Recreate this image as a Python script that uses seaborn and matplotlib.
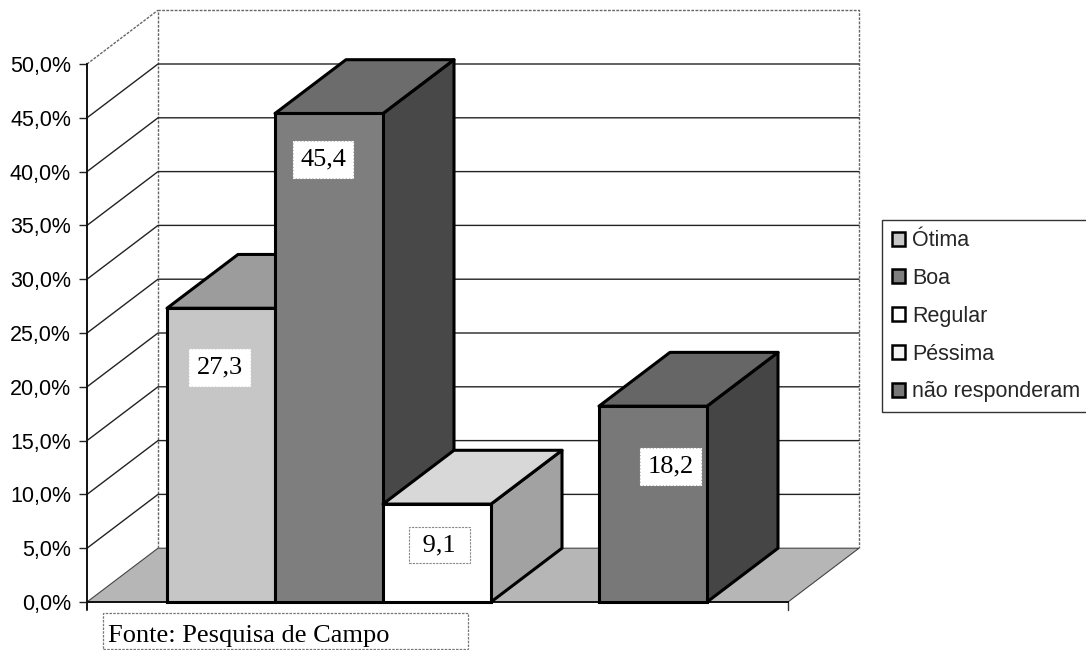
import matplotlib
matplotlib.use("Agg")
import matplotlib.pyplot as plt
from matplotlib.patches import Polygon, Rectangle
import pandas as pd
import seaborn as sns

categories = ["Ótima", "Boa", "Regular", "Péssima", "não responderam"]
values = [27.3, 45.4, 9.1, 0.0, 18.2]
value_labels = ["27,3", "45,4", " 9,1 ", "", "18,2"]
y_ticks = [0, 5, 10, 15, 20, 25, 30, 35, 40, 45, 50]
y_tick_labels = ["0,0%", "5,0%", "10,0%", "15,0%", "20,0%", "25,0%", "30,0%",
                 "35,0%", "40,0%", "45,0%", "50,0%"]

front_colors = ["#c6c6c6", "#7e7e7e", "#ffffff", "#f4f4f4", "#787878"]
top_colors = ["#9c9c9c", "#6c6c6c", "#d8d8d8", "#f4f4f4", "#666666"]
side_colors = ["#808080", "#484848", "#a2a2a2", "#f4f4f4", "#454545"]

# label position relative to the bar top / centre
label_drop = [5.5, 4.3, 3.8, 0, 5.6]
label_shift = [-0.01, -0.055, 0.02, 0, 0.165]

W, H = 1086, 650
DEPTH_X = 71 / 108
DEPTH_Y = 5.0


def draw_box(ax, bar, i):
    x0, x1 = bar.get_x(), bar.get_x() + bar.get_width()
    h = bar.get_height()
    top = [(x0, h), (x1, h), (x1 + DEPTH_X, h + DEPTH_Y), (x0 + DEPTH_X, h + DEPTH_Y)]
    side = [(x1, 0), (x1, h), (x1 + DEPTH_X, h + DEPTH_Y), (x1 + DEPTH_X, DEPTH_Y)]
    z = 3 + i
    ax.add_patch(Polygon(side, fc=side_colors[i], ec="black", lw=2.2, zorder=z,
                         clip_on=False, joinstyle="round"))
    ax.add_patch(Polygon(top, fc=top_colors[i], ec="black", lw=2.2, zorder=z + 0.1,
                         clip_on=False, joinstyle="round"))
    bar.set_zorder(z + 0.2)
    bar.set_edgecolor("black")
    bar.set_linewidth(2.2)
    bar.set_clip_on(False)


def plot_chart(file_name):
    sns.set_style("white")
    plt.rcParams["font.family"] = ["Liberation Sans", "DejaVu Sans"]
    df = pd.DataFrame({"categoria": categories, "valor": values})

    fig = plt.figure(figsize=(W / 100, H / 100), dpi=100)
    ax = fig.add_axes([87 / W, 1 - 602 / H, 701 / W, 538 / H])
    sns.barplot(data=df, x="categoria", y="valor", hue="categoria", order=categories,
                hue_order=categories, palette=front_colors, dodge=False, width=1.0,
                saturation=1, legend=True, ax=ax)

    ax.set_xlim(-134 / 108, 567 / 108)
    ax.set_ylim(0, 50)
    ax.set_xlabel("")
    ax.set_ylabel("")
    ax.set_xticks([])
    ax.set_yticks(y_ticks)
    ax.set_yticklabels(y_tick_labels, fontsize=15.5, color="black")
    ax.tick_params(axis="y", left=True, length=5.5, width=1, color="#222222", pad=6)
    ax.patch.set_alpha(0)
    for name in ["top", "right"]:
        ax.spines[name].set_visible(False)
    for name in ["left", "bottom"]:
        ax.spines[name].set_color("#111111")
        ax.spines[name].set_linewidth(1.4)

    xa, xb = ax.get_xlim()
    # floor
    ax.add_patch(Polygon([(xa, 0), (xb, 0), (xb + DEPTH_X, DEPTH_Y), (xa + DEPTH_X, DEPTH_Y)],
                         fc="#b6b6b6", ec="#444444", lw=0.8, zorder=0.5, clip_on=False))
    # walls
    wall_kw = dict(color="#666666", lw=1, ls=(0, (2, 1)), clip_on=False, zorder=0.8)
    ax.plot([xa + DEPTH_X, xa + DEPTH_X, xb + DEPTH_X, xb + DEPTH_X],
            [DEPTH_Y, 50 + DEPTH_Y, 50 + DEPTH_Y, DEPTH_Y], **wall_kw)
    ax.plot([xa, xa + DEPTH_X], [50, 50 + DEPTH_Y], **wall_kw)
    # gridlines: left wall then back wall
    for t in y_ticks[1:-1]:
        ax.plot([xa, xa + DEPTH_X, xb + DEPTH_X], [t, t + DEPTH_Y, t + DEPTH_Y],
                color="#222222", lw=1, clip_on=False, zorder=0.9)
    # small corner ticks under the floor
    ax.plot([xb, xb], [0, -0.7], color="#333333", lw=1, clip_on=False)
    ax.plot([xa, xa], [0, -0.7], color="#111111", lw=1.4, clip_on=False)

    bars = sorted([p for p in ax.patches if isinstance(p, Rectangle) and p.get_height() > 0],
                  key=lambda b: b.get_x())
    for bar in bars:
        i = int(round(bar.get_x() + bar.get_width() / 2))
        draw_box(ax, bar, i)
        ax.text(i + label_shift[i], values[i] - label_drop[i], value_labels[i],
                family=["Liberation Serif"], fontsize=19, color="black",
                ha="center", va="center", zorder=20,
                bbox=dict(boxstyle="square,pad=0.28", fc="white",
                          ec="#888888" if front_colors[i] == "#ffffff" else "white",
                          lw=0.8, ls=(0, (2, 1))))

    handles, labels = ax.get_legend_handles_labels()
    leg = ax.legend(handles, labels, loc="lower left", bbox_to_anchor=(882 / W, 1 - 412 / H),
                    bbox_transform=fig.transFigure, borderaxespad=0, fontsize=15.5,
                    handlelength=0.62, handleheight=0.62, handletextpad=0.33, labelspacing=0.78,
                    borderpad=0.45, fancybox=False, framealpha=1, edgecolor="#333333")
    leg.get_frame().set_linewidth(1)
    leg.set_zorder(30)
    for h in leg.legend_handles:
        h.set_edgecolor("black")
        h.set_linewidth(1.8)

    fig.add_artist(Rectangle((103 / W, 1 - 649 / H), 365 / W, 36 / H, transform=fig.transFigure,
                             fc="white", ec="#777777", lw=0.9, ls=(0, (2, 1))))
    fig.text(108 / W, 1 - 636 / H, "Fonte: Pesquisa de Campo", family=["Liberation Serif"],
             fontsize=19, color="black", ha="left", va="center")

    plt.savefig(file_name, dpi=100)


def main():
    plot_chart("out.png")


if __name__ == "__main__":
    main()
